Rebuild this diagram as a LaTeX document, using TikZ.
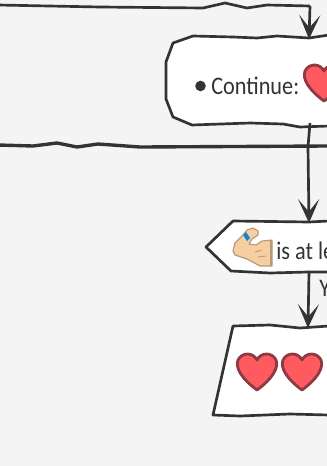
\documentclass[tikz,border=0pt]{standalone}
\usepackage{fontspec}
\setmainfont[FakeStretch=0.88]{Carlito}
\usetikzlibrary{arrows.meta}
\definecolor{ink}{HTML}{333333}
\definecolor{paper}{HTML}{F4F4F4}
\definecolor{heartred}{HTML}{FF5A60}
\definecolor{heartedge}{HTML}{8E3A42}
\definecolor{skin}{HTML}{F6CFA0}
\definecolor{skinedge}{HTML}{B59A78}

\begin{document}
\begin{tikzpicture}[x=0.025cm, y=-0.025cm,
every node/.style={text=ink, inner sep=0pt, font=\fontsize{18}{20}\selectfont},
flow/.style={ink, line width=1.9pt, line join=round},
hline/.style={ink, line width=2.4pt, line join=round},
tipflow/.style={flow, -{Stealth[length=17pt, width=15pt, inset=9pt]}},
boxline/.style={draw=ink, fill=white, line width=1.9pt, line join=round},
heart/.pic={\path[fill=heartred, draw=heartedge, line width=2pt, line join=round]
  (0,7) .. controls (-4,-1) and (-15,-1) .. (-19,7)
  .. controls (-22,15) and (-15,26) .. (0,37)
  .. controls (15,26) and (22,15) .. (19,7)
  .. controls (15,-1) and (4,-1) .. (0,7) -- cycle;}]

\useasboundingbox (0,0) rectangle (327,466);
\clip (0,0) rectangle (327,466);
\fill[paper] (0,0) rectangle (327,466);

% boxes
\draw[boxline] (329,35) -- (309,38) -- (277,36) -- (257,38) -- (233,37) -- (193,36) -- (173,43)
  -- (166,62) -- (166,99) -- (173,117) -- (192,125) -- (250,123) -- (283,124) -- (300,127) -- (329,126);
\draw[boxline] (329,221) -- (309,222) -- (233,221) -- (206,247) -- (231,271) -- (270,273) -- (308,272) -- (329,272);
\draw[boxline] (329,326) -- (300,328) -- (270,325) -- (233,326) -- (213,415) -- (240,416) -- (290,414) -- (329,415);

% anchors for the connectors
\coordinate (in0) at (-2,5);
\coordinate (in1) at (100,7);
\coordinate (in2) at (203,8);
\coordinate (in3) at (225,3);
\coordinate (in4) at (247,8);
\coordinate (in5) at (267,5);
\coordinate (in6) at (310,6);
\coordinate (contin) at (309,39);
\coordinate (contout) at (310,123);
\coordinate (cross) at (308,147);
\coordinate (leanin) at (309,223);
\coordinate (leanout) at (309,272);
\coordinate (heartsin) at (308,328);
\coordinate (bar0) at (-2,145);
\coordinate (bar1) at (33,146);
\coordinate (bar2) at (57,143);
\coordinate (bar3) at (77,147);
\coordinate (bar4) at (98,144);
\coordinate (bar5) at (140,147);
\coordinate (bar6) at (329,146);

\draw[flow] (in0) -- (in1) -- (in2) -- (in3) -- (in4) -- (in5) -- (in6);
\draw[tipflow] (in6) -- (contin);
\draw[hline] (bar0) -- (bar1) -- (bar2) -- (bar3) -- (bar4) -- (bar5) -- (bar6);
\draw[flow] (contout) -- (cross);
\draw[tipflow] (cross) -- (leanin);
\draw[tipflow] (leanout) -- (heartsin);

% continue box
\node[circle, fill=ink, minimum size=7.5pt] (dot) at (200.5,86) {};
\node[anchor=base west] (conttext) at (211,95) {Continue:};
\pic at (324,64) {heart};

% muscle
\path[fill=skin, draw=skinedge, line width=0.8pt, line join=round]
  (247,230) -- (253,228) -- (258,231) -- (258,235) -- (252,239) -- (249,244) -- (256,245) -- (262,241)
  -- (272,240) -- (272,266) -- (260,266) -- (247,259) -- (235,255) -- (233,251) -- (235,243) -- (243,235) -- cycle;
\fill[skinedge] (270,240) rectangle (272,266);
\fill[cyan!70!blue] (243,235) -- (246,232) -- (250,238) -- (247,241) -- cycle;
\draw[skinedge, line width=0.6pt] (255,252) -- (262,250) (258,257) -- (266,256);
\node[anchor=base west] (leantext) at (276,259) {is at le};
\node[anchor=base west] (yeslabel) at (319,296) {Y};

% hearts
\pic at (257,353) {heart};
\pic at (302,353) {heart};

\end{tikzpicture}
\end{document}
